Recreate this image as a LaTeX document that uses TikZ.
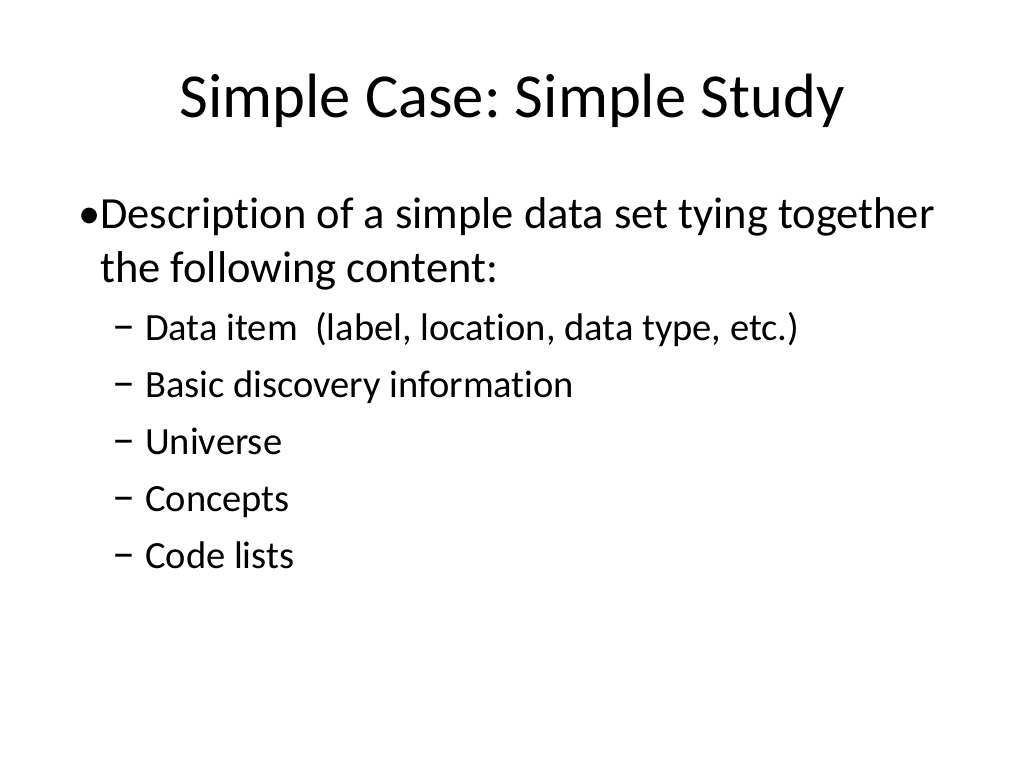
\documentclass[tikz,border=0pt]{standalone}
\usepackage{fontspec}
\setmainfont[Ligatures={NoCommon}]{Carlito}
\frenchspacing
\begin{document}
\begin{tikzpicture}[x=1pt,y=-1pt,
  txt/.style={anchor=base west,inner sep=0pt,font=\fontsize{44.5}{48}\selectfont},
  sub/.style={anchor=base west,inner sep=0pt,font=\fontsize{38.5}{42}\selectfont}]
\useasboundingbox (0,0) rectangle (1024,768);
\node[anchor=base,inner sep=0pt,font=\fontsize{62.6}{70}\selectfont] (title) at (512,117) {Simple Case: Simple Study};
\node[txt] (b1) at (78,228) {•};
\node[txt] (l1) at (100,228) {Description of a simple data set tying together};
\node[txt] (l2) at (100,282) {the following content:};
\node[sub,font=\fontsize{46}{46}\selectfont] (d1) at (112,340) {–};
\node[sub] (s1) at (145,340) {Data item\ \ (label, location, data type, etc.)};
\node[sub,font=\fontsize{46}{46}\selectfont] (d2) at (112,397) {–};
\node[sub] (s2) at (145,397) {Basic discovery information};
\node[sub,font=\fontsize{46}{46}\selectfont] (d3) at (112,454) {–};
\node[sub] (s3) at (145,454) {Universe};
\node[sub,font=\fontsize{46}{46}\selectfont] (d4) at (112,511) {–};
\node[sub] (s4) at (145,511) {Concepts};
\node[sub,font=\fontsize{46}{46}\selectfont] (d5) at (112,568) {–};
\node[sub] (s5) at (145,568) {Code lists};
\end{tikzpicture}
\end{document}
